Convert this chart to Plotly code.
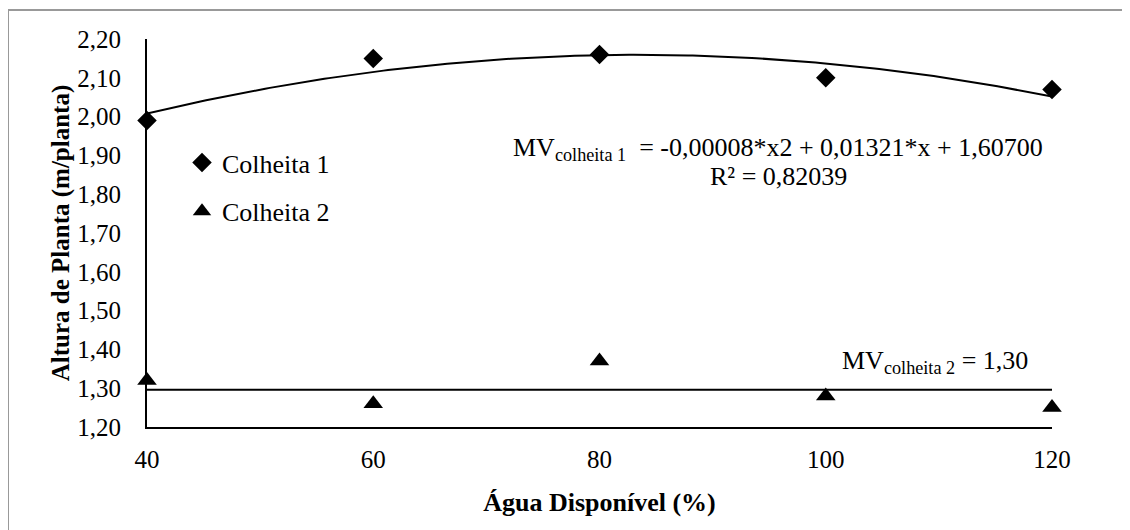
import numpy as np
import plotly.graph_objects as go

agua = [40, 60, 80, 100, 120]
colheita1 = [1.99, 2.15, 2.16, 2.10, 2.07]
colheita2 = [1.32, 1.26, 1.37, 1.28, 1.25]
y_ticks = [1.20, 1.30, 1.40, 1.50, 1.60, 1.70, 1.80, 1.90, 2.00, 2.10, 2.20]
y_ticklabels = ["1,20", "1,30", "1,40", "1,50", "1,60", "1,70", "1,80", "1,90", "2,00", "2,10", "2,20"]
x_ticks = [40, 60, 80, 100, 120]

FONT = "Liberation Serif, Times New Roman, serif"

# plot area in picture pixels (page body adds 8 px offset)
PL, PR, PT, PB = 147, 1052, 39, 427
def px(xp):
    return (xp - PL) / (PR - PL)
def py(yp):
    return (PB - yp) / (PB - PT)

coef = np.polyfit(agua, colheita1, 2)
xf = np.linspace(min(agua), max(agua), 200)
yf = np.polyval(coef, xf)
mean2 = float(np.mean(colheita2))

fig = go.Figure()
fig.add_trace(go.Scatter(x=xf, y=yf, mode="lines", line=dict(color="black", width=2),
                         showlegend=False, hoverinfo="skip"))
fig.add_trace(go.Scatter(x=[min(agua), max(agua)], y=[mean2, mean2], mode="lines",
                         line=dict(color="black", width=2), showlegend=False, hoverinfo="skip"))
fig.add_trace(go.Scatter(x=agua, y=colheita1, mode="markers", name="Colheita 1",
                         legendgroup="a",
                         marker=dict(symbol="diamond", size=15, color="black")))
fig.add_trace(go.Scatter(x=agua, y=colheita2, mode="markers", name="Colheita 2",
                         legendgroup="b",
                         marker=dict(symbol="triangle-up", size=17, color="black")))

# outer border (only top/left visible in the picture)
fig.add_shape(type="rect", xref="paper", yref="paper",
              x0=px(8), x1=px(1145), y0=py(545), y1=py(10),
              line=dict(color="#999999", width=2), layer="below")

fig.add_annotation(x=px(778), y=py(149), xref="paper", yref="paper", showarrow=False,
                   xanchor="center", yanchor="middle",
                   text="MV<sub>colheita 1</sub>  = -0,00008*x2 + 0,01321*x + 1,60700",
                   font=dict(family=FONT, size=26, color="black"))
fig.add_annotation(x=px(778), y=py(177), xref="paper", yref="paper", showarrow=False,
                   xanchor="center", yanchor="middle",
                   text="R² = 0,82039", font=dict(family=FONT, size=26, color="black"))
fig.add_annotation(x=px(935), y=py(362), xref="paper", yref="paper", showarrow=False,
                   xanchor="center", yanchor="middle",
                   text="MV<sub>colheita 2</sub> = 1,30", font=dict(family=FONT, size=26, color="black"))

fig.update_layout(
    width=1130, height=530,
    margin=dict(l=PL - 8, r=1130 + 8 - PR, t=PT - 8, b=530 + 8 - PB),
    paper_bgcolor="white", plot_bgcolor="white",
    font=dict(family=FONT, size=26, color="black"),
    showlegend=True,
    legend=dict(x=px(182), y=py(139), xanchor="left", yanchor="top",
                font=dict(family=FONT, size=26, color="black"),
                bgcolor="rgba(0,0,0,0)", tracegroupgap=12, itemwidth=30),
    xaxis=dict(range=[40, 120], tickvals=x_ticks, showgrid=False, zeroline=False,
               showline=True, linecolor="black", linewidth=2, ticks="",
               ticklabelstandoff=9,
               tickfont=dict(family=FONT, size=25),
               title=dict(text="<b>Água Disponível (%)</b>", font=dict(family=FONT, size=26), standoff=21)),
    yaxis=dict(range=[1.20, 2.20], tickvals=y_ticks, ticktext=y_ticklabels, showgrid=False,
               zeroline=False, showline=True, linecolor="black", linewidth=2, ticks="",
               ticklabelstandoff=19,
               tickfont=dict(family=FONT, size=25),
               title=dict(text="<b>Altura de Planta (m/planta)</b>", font=dict(family=FONT, size=25), standoff=1)),
)

fig.update_traces(cliponaxis=False)
fig.write_html("out.html")
